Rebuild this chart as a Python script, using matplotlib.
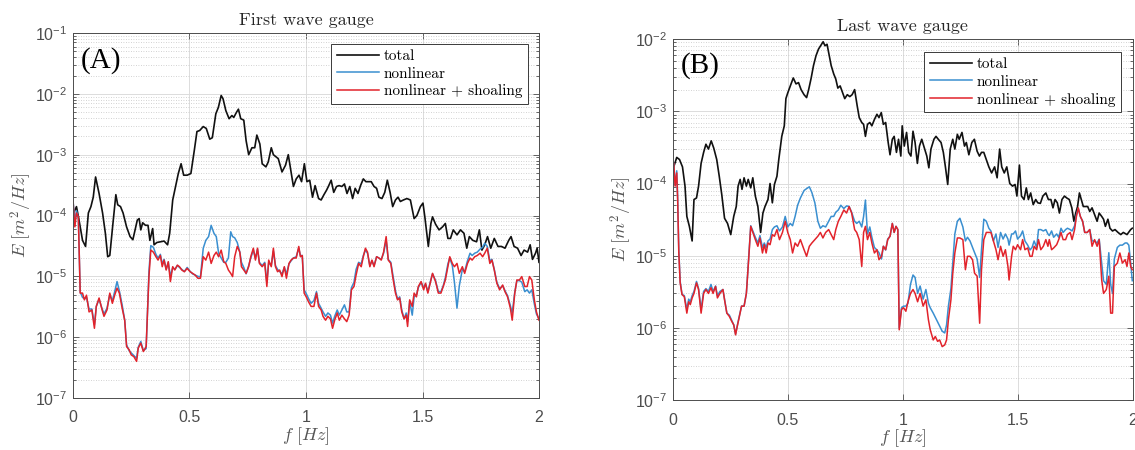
import numpy as np
import matplotlib.pyplot as plt
from matplotlib.ticker import LogLocator, NullFormatter

plt.rcParams['font.family'] = ['Liberation Sans', 'DejaVu Sans']
plt.rcParams['mathtext.fontset'] = 'cm'

# ---- panel A: first wave gauge ----
f_tot_a = [0.003, 0.015, 0.026, 0.041, 0.054, 0.066, 0.077, 0.087, 0.097, 0.112,
           0.127, 0.139, 0.149, 0.158, 0.170, 0.184, 0.192, 0.204, 0.215, 0.230,
           0.245, 0.257, 0.276, 0.284, 0.291, 0.299, 0.311, 0.322, 0.330, 0.342,
           0.348, 0.360, 0.375, 0.391, 0.406, 0.415, 0.428, 0.440, 0.452, 0.464,
           0.475, 0.490, 0.506, 0.521, 0.532, 0.544, 0.559, 0.572, 0.587, 0.598,
           0.613, 0.624, 0.636, 0.644, 0.656, 0.670, 0.682, 0.690, 0.702, 0.710,
           0.720, 0.733, 0.743, 0.754, 0.768, 0.780, 0.789, 0.802, 0.812, 0.828,
           0.838, 0.851, 0.860, 0.872, 0.881, 0.897, 0.912, 0.924, 0.935, 0.946,
           0.958, 0.970, 0.981, 0.993, 1.004, 1.016, 1.028, 1.039, 1.054, 1.065,
           1.077, 1.088, 1.096, 1.108, 1.119, 1.131, 1.142, 1.154, 1.165, 1.176,
           1.188, 1.200, 1.211, 1.223, 1.234, 1.246, 1.257, 1.269, 1.280, 1.292,
           1.303, 1.313, 1.326, 1.338, 1.349, 1.361, 1.372, 1.384, 1.395, 1.405,
           1.418, 1.433, 1.448, 1.464, 1.476, 1.491, 1.502, 1.510, 1.525, 1.536,
           1.543, 1.556, 1.571, 1.586, 1.598, 1.609, 1.620, 1.632, 1.648, 1.663,
           1.678, 1.690, 1.701, 1.716, 1.732, 1.744, 1.755, 1.767, 1.779, 1.793,
           1.808, 1.824, 1.839, 1.854, 1.870, 1.880, 1.893, 1.908, 1.923, 1.936,
           1.951, 1.962, 1.972, 1.985, 1.992, 2.000]
total_a = [1.1e-4, 1.4e-4, 8.4e-5, 3.9e-5, 3.1e-5, 1.1e-4, 1.4e-4, 2.0e-4, 4.3e-4, 2.3e-4,
           1.1e-4, 5.1e-5, 2.1e-5, 2.2e-5, 6.5e-5, 2.2e-4, 1.5e-4, 1.4e-4, 1.1e-4, 6.5e-5,
           4.5e-5, 4.0e-5, 8.4e-5, 8.9e-5, 5.8e-5, 7.6e-5, 6.9e-5, 6.9e-5, 3.9e-5, 6.1e-5,
           3.3e-5, 3.6e-5, 3.7e-5, 3.8e-5, 3.3e-5, 5.1e-5, 1.8e-4, 3.0e-4, 4.9e-4, 7.1e-4,
           4.6e-4, 4.6e-4, 4.9e-4, 1.2e-3, 2.4e-3, 2.5e-3, 2.9e-3, 2.7e-3, 1.8e-3, 1.9e-3,
           4.7e-3, 6.0e-3, 9.4e-3, 8.3e-3, 5.3e-3, 3.9e-3, 4.4e-3, 4.1e-3, 5.0e-3, 5.6e-3,
           3.9e-3, 3.7e-3, 1.7e-3, 1.0e-3, 1.3e-3, 1.3e-3, 2.1e-3, 1.5e-3, 7.1e-4, 6.3e-4,
           7.6e-4, 1.3e-3, 1.0e-3, 9.2e-4, 8.6e-4, 5.2e-4, 6.7e-4, 1.0e-3, 5.5e-4, 3.0e-4,
           4.0e-4, 4.6e-4, 3.6e-4, 7.1e-4, 3.6e-4, 3.8e-4, 2.0e-4, 3.1e-4, 1.9e-4, 1.8e-4,
           2.2e-4, 2.6e-4, 3.0e-4, 3.8e-4, 2.4e-4, 3.0e-4, 3.1e-4, 3.0e-4, 3.3e-4, 2.3e-4,
           3.0e-4, 1.9e-4, 2.8e-4, 2.3e-4, 3.1e-4, 4.0e-4, 3.6e-4, 3.6e-4, 3.6e-4, 3.0e-4,
           2.8e-4, 2.0e-4, 1.9e-4, 2.4e-4, 3.8e-4, 2.4e-4, 1.4e-4, 1.8e-4, 2.0e-4, 1.7e-4,
           1.8e-4, 1.9e-4, 1.8e-4, 8.9e-5, 1.0e-4, 1.4e-4, 1.6e-4, 9.5e-5, 3.1e-5, 7.4e-5,
           9.5e-5, 7.2e-5, 5.8e-5, 6.5e-5, 7.4e-5, 4.2e-5, 4.2e-5, 5.8e-5, 4.8e-5, 5.8e-5,
           5.1e-5, 2.9e-5, 4.5e-5, 3.9e-5, 3.7e-5, 5.8e-5, 2.7e-5, 3.3e-5, 4.5e-5, 2.9e-5,
           4.2e-5, 3.1e-5, 3.1e-5, 2.9e-5, 3.9e-5, 4.5e-5, 3.1e-5, 2.9e-5, 2.2e-5, 2.7e-5,
           2.5e-5, 3.3e-5, 1.9e-5, 2.4e-5, 2.9e-5, 1.7e-5]

f_nl_a = [0.000, 0.008, 0.015, 0.023, 0.031, 0.041, 0.049, 0.058, 0.069, 0.081,
          0.092, 0.100, 0.112, 0.123, 0.133, 0.146, 0.158, 0.169, 0.179, 0.189,
          0.199, 0.211, 0.222, 0.230, 0.241, 0.250, 0.261, 0.273, 0.280, 0.291,
          0.302, 0.314, 0.326, 0.334, 0.345, 0.356, 0.365, 0.375, 0.383, 0.391,
          0.400, 0.409, 0.418, 0.428, 0.437, 0.448, 0.457, 0.467, 0.478, 0.490,
          0.503, 0.513, 0.524, 0.536, 0.547, 0.559, 0.570, 0.582, 0.593, 0.605,
          0.615, 0.625, 0.636, 0.647, 0.656, 0.667, 0.677, 0.685, 0.694, 0.705,
          0.716, 0.723, 0.733, 0.743, 0.754, 0.763, 0.774, 0.783, 0.792, 0.800,
          0.812, 0.823, 0.832, 0.840, 0.851, 0.860, 0.869, 0.878, 0.887, 0.897,
          0.907, 0.916, 0.927, 0.936, 0.946, 0.958, 0.969, 0.976, 0.984, 0.992,
          1.001, 1.011, 1.022, 1.034, 1.045, 1.054, 1.065, 1.073, 1.084, 1.094,
          1.105, 1.114, 1.123, 1.134, 1.143, 1.154, 1.165, 1.175, 1.185, 1.195,
          1.206, 1.215, 1.226, 1.237, 1.246, 1.255, 1.264, 1.274, 1.283, 1.292,
          1.303, 1.313, 1.323, 1.333, 1.344, 1.353, 1.364, 1.372, 1.384, 1.393,
          1.402, 1.411, 1.421, 1.430, 1.436, 1.445, 1.456, 1.464, 1.474, 1.482,
          1.494, 1.505, 1.513, 1.523, 1.533, 1.543, 1.556, 1.568, 1.579, 1.589,
          1.598, 1.609, 1.617, 1.628, 1.637, 1.648, 1.658, 1.671, 1.681, 1.693,
          1.704, 1.713, 1.724, 1.735, 1.747, 1.758, 1.767, 1.778, 1.789, 1.798,
          1.808, 1.819, 1.831, 1.844, 1.854, 1.865, 1.877, 1.885, 1.896, 1.905,
          1.916, 1.926, 1.939, 1.949, 1.959, 1.969, 1.980, 1.989, 2.000]
nonlin_a = [1.8e-4, 8.0e-5, 1.2e-4, 9.0e-5, 5.5e-6, 4.5e-6, 4.3e-6, 4.5e-6, 2.9e-6, 2.9e-6,
            1.6e-6, 3.2e-6, 4.2e-6, 3.1e-6, 2.4e-6, 3.0e-6, 5.0e-6, 4.0e-6, 5.6e-6, 8.2e-6,
            5.8e-6, 3.4e-6, 1.9e-6, 7.5e-7, 6.0e-7, 5.5e-7, 5.0e-7, 4.5e-7, 6.8e-7, 8.5e-7,
            6.0e-7, 6.5e-7, 1.2e-5, 3.2e-5, 3.0e-5, 2.3e-5, 2.0e-5, 2.3e-5, 1.6e-5, 1.9e-5,
            1.3e-5, 1.7e-5, 1.0e-5, 1.4e-5, 1.3e-5, 1.5e-5, 1.4e-5, 1.3e-5, 1.2e-5, 1.4e-5,
            1.2e-5, 1.1e-5, 1.05e-5, 1.0e-5, 9.8e-6, 2.9e-5, 3.9e-5, 4.5e-5, 6.9e-5, 5.1e-5,
            4.5e-5, 2.4e-5, 2.0e-5, 1.7e-5, 1.7e-5, 2.0e-5, 5.4e-5, 4.5e-5, 4.3e-5, 3.6e-5,
            2.5e-5, 1.7e-5, 1.4e-5, 1.1e-5, 1.5e-5, 2.0e-5, 2.7e-5, 2.0e-5, 2.8e-5, 1.7e-5,
            1.5e-5, 1.7e-5, 8.0e-6, 1.7e-5, 1.5e-5, 2.6e-5, 1.5e-5, 1.3e-5, 1.2e-5, 1.1e-5,
            1.4e-5, 1.1e-5, 1.6e-5, 1.8e-5, 2.0e-5, 2.1e-5, 2.9e-5, 2.2e-5, 2.2e-5, 6.0e-6,
            5.2e-6, 4.3e-6, 3.6e-6, 4.0e-6, 5.6e-6, 3.6e-6, 3.0e-6, 2.6e-6, 2.2e-6, 2.5e-6,
            2.3e-6, 1.7e-6, 2.2e-6, 2.8e-6, 2.3e-6, 2.8e-6, 3.4e-6, 2.6e-6, 2.6e-6, 6.5e-6,
            8.0e-6, 1.3e-5, 1.7e-5, 1.6e-5, 2.2e-5, 2.7e-5, 2.4e-5, 1.5e-5, 1.8e-5, 1.5e-5,
            2.1e-5, 2.0e-5, 1.9e-5, 2.4e-5, 3.9e-5, 1.9e-5, 1.7e-5, 1.1e-5, 5.8e-6, 4.2e-6,
            4.6e-6, 2.8e-6, 2.0e-6, 2.5e-6, 1.8e-6, 3.8e-6, 2.3e-6, 4.6e-6, 5.0e-6, 6.5e-6,
            8.0e-6, 6.5e-6, 7.5e-6, 5.6e-6, 8.0e-6, 1.1e-5, 8.5e-6, 5.6e-6, 5.6e-6, 7.0e-6,
            9.5e-6, 1.6e-5, 2.0e-5, 1.5e-5, 8.0e-6, 3.0e-6, 7.0e-6, 1.3e-5, 1.2e-5, 1.8e-5,
            2.4e-5, 2.2e-5, 2.4e-5, 2.5e-5, 2.8e-5, 3.0e-5, 3.5e-5, 3.1e-5, 1.8e-5, 1.9e-5,
            1.3e-5, 8.0e-6, 6.3e-6, 7.0e-6, 5.8e-6, 4.8e-6, 3.3e-6, 2.5e-6, 5.5e-6, 8.5e-6,
            8.5e-6, 8.0e-6, 5.6e-6, 6.0e-6, 5.3e-6, 6.0e-6, 3.5e-6, 2.4e-6, 2.0e-6]
shoal_a = [1.8e-4, 6.5e-5, 1.1e-4, 9.5e-5, 5.3e-6, 5.3e-6, 4.1e-6, 4.9e-6, 2.6e-6, 2.8e-6,
           1.4e-6, 3.2e-6, 4.4e-6, 3.0e-6, 2.2e-6, 2.8e-6, 5.3e-6, 3.6e-6, 4.9e-6, 6.4e-6,
           5.3e-6, 3.0e-6, 1.9e-6, 7.0e-7, 6.2e-7, 5.1e-7, 4.8e-7, 4.0e-7, 6.6e-7, 8.0e-7,
           5.8e-7, 7.0e-7, 9.9e-6, 2.7e-5, 2.5e-5, 2.1e-5, 1.85e-5, 2.2e-5, 1.44e-5, 1.85e-5,
           1.27e-5, 1.74e-5, 8.2e-6, 1.44e-5, 1.27e-5, 1.53e-5, 1.44e-5, 1.27e-5, 1.19e-5, 1.35e-5,
           1.19e-5, 1.12e-5, 1.05e-5, 9.3e-6, 9.3e-6, 2.1e-5, 1.85e-5, 2.5e-5, 1.63e-5, 2.2e-5,
           2.5e-5, 2.1e-5, 2.7e-5, 1.74e-5, 1.63e-5, 1.27e-5, 1.12e-5, 9.9e-6, 2.1e-5, 3.1e-5,
           2.5e-5, 1.44e-5, 1.27e-5, 1.12e-5, 1.44e-5, 2.1e-5, 2.9e-5, 1.85e-5, 2.9e-5, 1.63e-5,
           1.44e-5, 1.63e-5, 6.8e-6, 1.85e-5, 1.44e-5, 2.9e-5, 1.44e-5, 1.19e-5, 1.27e-5, 9.9e-6,
           1.44e-5, 9.3e-6, 1.63e-5, 1.85e-5, 2.0e-5, 2.0e-5, 3.1e-5, 2.1e-5, 2.2e-5, 5.3e-6,
           4.6e-6, 3.8e-6, 3.2e-6, 3.2e-6, 5.3e-6, 3.2e-6, 2.8e-6, 2.2e-6, 1.9e-6, 2.2e-6,
           2.0e-6, 1.4e-6, 1.9e-6, 2.5e-6, 1.9e-6, 2.3e-6, 2.0e-6, 1.8e-6, 2.3e-6, 6.0e-6,
           6.8e-6, 1.05e-5, 1.63e-5, 1.44e-5, 2.1e-5, 2.9e-5, 2.5e-5, 1.44e-5, 1.85e-5, 1.44e-5,
           2.1e-5, 2.0e-5, 1.85e-5, 2.5e-5, 4.5e-5, 1.85e-5, 1.63e-5, 9.9e-6, 5.3e-6, 4.1e-6,
           4.4e-6, 2.6e-6, 2.0e-6, 2.3e-6, 1.5e-6, 4.1e-6, 3.2e-6, 5.3e-6, 4.6e-6, 6.8e-6,
           8.2e-6, 6.0e-6, 7.7e-6, 5.3e-6, 7.7e-6, 1.12e-5, 8.2e-6, 5.3e-6, 5.3e-6, 6.8e-6,
           8.7e-6, 1.44e-5, 2.1e-5, 1.63e-5, 1.44e-5, 1.63e-5, 1.12e-5, 1.44e-5, 1.12e-5, 1.63e-5,
           2.0e-5, 1.85e-5, 2.1e-5, 2.2e-5, 2.4e-5, 2.1e-5, 2.4e-5, 2.9e-5, 1.63e-5, 1.85e-5,
           1.27e-5, 7.7e-6, 6.0e-6, 7.2e-6, 5.6e-6, 4.6e-6, 3.0e-6, 1.9e-6, 5.3e-6, 8.7e-6,
           8.7e-6, 9.9e-6, 6.8e-6, 6.8e-6, 9.9e-6, 8.7e-6, 4.1e-6, 2.6e-6, 1.9e-6]

# ---- panel B: last wave gauge ----
f_tot_b = [0.003, 0.016, 0.028, 0.041, 0.052, 0.060, 0.071, 0.083, 0.091, 0.102,
           0.111, 0.122, 0.133, 0.143, 0.154, 0.166, 0.177, 0.190, 0.201, 0.212,
           0.224, 0.237, 0.251, 0.264, 0.275, 0.283, 0.292, 0.300, 0.309, 0.319,
           0.327, 0.338, 0.347, 0.358, 0.369, 0.381, 0.391, 0.400, 0.413, 0.422,
           0.432, 0.441, 0.452, 0.460, 0.473, 0.484, 0.491, 0.499, 0.510, 0.523,
           0.535, 0.546, 0.557, 0.570, 0.581, 0.590, 0.601, 0.611, 0.622, 0.633,
           0.644, 0.653, 0.661, 0.670, 0.677, 0.688, 0.699, 0.708, 0.717, 0.727,
           0.738, 0.747, 0.758, 0.769, 0.779, 0.790, 0.801, 0.810, 0.821, 0.829,
           0.837, 0.846, 0.856, 0.865, 0.876, 0.887, 0.896, 0.906, 0.915, 0.925,
           0.936, 0.944, 0.954, 0.962, 0.972, 0.981, 0.991, 0.997, 1.006, 1.016,
           1.025, 1.035, 1.044, 1.053, 1.063, 1.072, 1.082, 1.091, 1.104, 1.113,
           1.122, 1.135, 1.144, 1.154, 1.166, 1.176, 1.185, 1.195, 1.206, 1.217,
           1.226, 1.237, 1.245, 1.257, 1.268, 1.276, 1.287, 1.300, 1.311, 1.323,
           1.333, 1.342, 1.352, 1.363, 1.374, 1.386, 1.399, 1.410, 1.421, 1.430,
           1.441, 1.452, 1.465, 1.477, 1.488, 1.496, 1.507, 1.516, 1.527, 1.537,
           1.546, 1.556, 1.567, 1.578, 1.587, 1.598, 1.609, 1.622, 1.633, 1.644,
           1.653, 1.662, 1.672, 1.681, 1.692, 1.703, 1.713, 1.724, 1.735, 1.744,
           1.752, 1.760, 1.768, 1.776, 1.785, 1.794, 1.804, 1.813, 1.823, 1.834,
           1.845, 1.854, 1.865, 1.873, 1.881, 1.892, 1.901, 1.912, 1.923, 1.936,
           1.948, 1.959, 1.975, 1.991, 1.998]
total_b = [1.7e-4, 2.3e-4, 2.15e-4, 1.7e-4, 9.2e-5, 3.5e-5, 2.55e-5, 1.6e-5, 6.0e-5, 6.3e-5,
           9.2e-5, 1.9e-4, 2.7e-4, 3.5e-4, 3.0e-4, 3.9e-4, 3.1e-4, 2.15e-4, 1.26e-4, 7.0e-5,
           3.3e-5, 2.8e-5, 1.96e-5, 3.5e-5, 4.8e-5, 9.2e-5, 1.14e-4, 8.3e-5, 1.2e-4, 9.2e-5,
           1.14e-4, 8.7e-5, 1.2e-4, 6.7e-5, 4.8e-5, 2.1e-5, 3.9e-5, 4.8e-5, 6.0e-5, 1.0e-4,
           5.4e-5, 9.7e-5, 1.26e-4, 2.15e-4, 4.5e-4, 6.3e-4, 1.5e-3, 1.8e-3, 2.25e-3, 2.9e-3,
           2.4e-3, 2.5e-3, 2.0e-3, 1.7e-3, 1.55e-3, 2.0e-3, 2.9e-3, 4.3e-3, 5.9e-3, 7.3e-3,
           8.3e-3, 9.2e-3, 8.1e-3, 8.5e-3, 6.5e-3, 4.3e-3, 3.3e-3, 2.8e-3, 2.1e-3, 2.25e-3,
           1.8e-3, 1.5e-3, 1.7e-3, 1.6e-3, 1.7e-3, 2.0e-3, 1.2e-3, 8.2e-4, 7.0e-4, 6.6e-4,
           4.5e-4, 6.6e-4, 7.0e-4, 6.3e-4, 7.7e-4, 9.1e-4, 8.2e-4, 9.6e-4, 6.6e-4, 7.0e-4,
           3.7e-4, 2.5e-4, 4.1e-4, 4.5e-4, 2.7e-4, 4.1e-4, 2.4e-4, 6.3e-4, 3.3e-4, 5.1e-4,
           2.7e-4, 2.4e-4, 5.3e-4, 3.7e-4, 1.9e-4, 3.3e-4, 4.1e-4, 3.3e-4, 2.4e-4, 1.65e-4,
           3.0e-4, 4.1e-4, 4.5e-4, 4.1e-4, 3.7e-4, 2.7e-4, 1.7e-4, 9.7e-5, 3.0e-4, 4.1e-4,
           3.0e-4, 4.8e-4, 4.1e-4, 5.1e-4, 3.3e-4, 3.7e-4, 2.5e-4, 3.7e-4, 4.1e-4, 2.8e-4,
           2.4e-4, 2.7e-4, 2.7e-4, 2.15e-4, 1.7e-4, 1.4e-4, 1.7e-4, 1.2e-4, 3.0e-4, 1.7e-4,
           1.4e-4, 1.7e-4, 1.0e-4, 9.2e-5, 9.7e-5, 6.7e-5, 1.8e-4, 6.7e-5, 6.0e-5, 8.7e-5,
           6.0e-5, 7.4e-5, 5.1e-5, 6.0e-5, 5.4e-5, 5.3e-5, 6.7e-5, 7.4e-5, 6.0e-5, 6.0e-5,
           4.6e-5, 6.0e-5, 5.4e-5, 3.9e-5, 6.0e-5, 6.7e-5, 6.3e-5, 6.0e-5, 4.6e-5, 3.0e-5,
           3.9e-5, 4.8e-5, 7.4e-5, 6.0e-5, 4.8e-5, 4.8e-5, 4.8e-5, 4.1e-5, 4.6e-5, 3.7e-5,
           3.0e-5, 3.9e-5, 3.5e-5, 3.2e-5, 2.55e-5, 3.2e-5, 2.4e-5, 2.2e-5, 2.3e-5, 2.1e-5,
           1.96e-5, 2.1e-5, 1.96e-5, 2.3e-5, 2.4e-5]

f_nl_b = [0.003, 0.009, 0.016, 0.020, 0.025, 0.031, 0.039, 0.049, 0.060, 0.068,
          0.075, 0.083, 0.091, 0.102, 0.111, 0.122, 0.133, 0.143, 0.154, 0.165,
          0.174, 0.185, 0.193, 0.204, 0.217, 0.224, 0.234, 0.245, 0.256, 0.264,
          0.272, 0.279, 0.287, 0.298, 0.309, 0.319, 0.327, 0.338, 0.347, 0.358,
          0.369, 0.378, 0.389, 0.397, 0.405, 0.413, 0.422, 0.432, 0.441, 0.452,
          0.463, 0.476, 0.488, 0.499, 0.510, 0.520, 0.531, 0.542, 0.554, 0.570,
          0.581, 0.593, 0.604, 0.617, 0.630, 0.641, 0.652, 0.664, 0.677, 0.688,
          0.699, 0.708, 0.719, 0.730, 0.743, 0.755, 0.766, 0.777, 0.790, 0.799,
          0.810, 0.821, 0.829, 0.837, 0.846, 0.856, 0.865, 0.876, 0.887, 0.896,
          0.907, 0.915, 0.925, 0.934, 0.944, 0.954, 0.962, 0.970, 0.978, 0.984,
          0.994, 1.003, 1.013, 1.022, 1.033, 1.044, 1.053, 1.064, 1.075, 1.088,
          1.100, 1.111, 1.119, 1.132, 1.141, 1.151, 1.160, 1.171, 1.182, 1.190,
          1.198, 1.209, 1.217, 1.226, 1.237, 1.248, 1.261, 1.272, 1.281, 1.292,
          1.303, 1.312, 1.323, 1.334, 1.342, 1.352, 1.363, 1.374, 1.383, 1.394,
          1.405, 1.414, 1.425, 1.436, 1.446, 1.457, 1.462, 1.473, 1.480, 1.490,
          1.499, 1.512, 1.521, 1.531, 1.543, 1.553, 1.562, 1.571, 1.582, 1.590,
          1.600, 1.611, 1.622, 1.631, 1.637, 1.647, 1.656, 1.669, 1.678, 1.688,
          1.697, 1.708, 1.716, 1.728, 1.736, 1.747, 1.755, 1.763, 1.772, 1.782,
          1.791, 1.802, 1.813, 1.823, 1.834, 1.845, 1.854, 1.865, 1.873, 1.885,
          1.896, 1.904, 1.912, 1.920, 1.933, 1.944, 1.955, 1.967, 1.975, 1.983,
          1.991, 1.998]
nonlin_b = [1.9e-4, 9.5e-5, 1.5e-4, 6.5e-5, 1.2e-5, 4.4e-6, 2.9e-6, 2.8e-6, 1.8e-6, 2.5e-6,
            2.3e-6, 2.8e-6, 3.2e-6, 4.4e-6, 3.5e-6, 1.8e-6, 3.2e-6, 3.5e-6, 3.2e-6, 4.0e-6,
            3.2e-6, 3.8e-6, 2.8e-6, 3.2e-6, 3.4e-6, 2.5e-6, 1.6e-6, 1.5e-6, 1.25e-6, 1.1e-6,
            8.2e-7, 1.05e-6, 1.4e-6, 2.0e-6, 2.0e-6, 3.0e-6, 7.5e-6, 2.6e-5, 2.2e-5, 1.8e-5,
            1.5e-5, 1.9e-5, 1.3e-5, 1.5e-5, 1.3e-5, 1.6e-5, 1.7e-5, 2.3e-5, 2.5e-5, 2.6e-5,
            2.2e-5, 2.5e-5, 3.5e-5, 2.5e-5, 2.8e-5, 2.6e-5, 3.5e-5, 5.0e-5, 6.3e-5, 8.0e-5,
            8.5e-5, 9.0e-5, 7.5e-5, 5.4e-5, 3.0e-5, 2.4e-5, 2.6e-5, 2.5e-5, 3.0e-5, 3.5e-5,
            3.5e-5, 4.0e-5, 4.3e-5, 5.0e-5, 4.5e-5, 4.9e-5, 4.8e-5, 4.0e-5, 3.0e-5, 2.8e-5,
            3.0e-5, 2.5e-5, 3.5e-5, 5.9e-5, 2.0e-5, 2.5e-5, 1.8e-5, 1.3e-5, 1.2e-5, 1.1e-5,
            9.0e-6, 1.35e-5, 1.2e-5, 1.7e-5, 1.86e-5, 2.8e-5, 2.1e-5, 2.55e-5, 2.3e-5, 1.0e-6,
            1.9e-6, 2.0e-6, 2.0e-6, 2.2e-6, 4.0e-6, 5.4e-6, 5.0e-6, 3.0e-6, 3.8e-6, 2.5e-6,
            3.4e-6, 2.2e-6, 1.9e-6, 1.6e-6, 1.4e-6, 1.2e-6, 1.05e-6, 9.0e-7, 8.5e-7, 1.1e-6,
            2.0e-6, 3.5e-6, 8.0e-6, 2.0e-5, 3.0e-5, 3.3e-5, 2.5e-5, 1.6e-5, 1.8e-5, 1.6e-5,
            1.3e-5, 1.1e-5, 9.0e-6, 5.0e-6, 1.2e-5, 3.2e-5, 3.0e-5, 2.4e-5, 2.2e-5, 1.6e-5,
            2.0e-5, 1.3e-5, 2.1e-5, 1.7e-5, 2.0e-5, 1.7e-5, 1.4e-5, 2.0e-5, 2.0e-5, 2.2e-5,
            1.7e-5, 1.9e-5, 2.2e-5, 1.6e-5, 1.4e-5, 1.2e-5, 1.3e-5, 1.6e-5, 1.3e-5, 2.3e-5,
            2.3e-5, 2.2e-5, 2.3e-5, 2.0e-5, 1.9e-5, 2.2e-5, 1.8e-5, 2.0e-5, 1.8e-5, 2.4e-5,
            2.1e-5, 2.3e-5, 2.4e-5, 2.3e-5, 2.2e-5, 2.6e-5, 3.7e-5, 4.5e-5, 3.5e-5, 3.0e-5,
            2.1e-5, 2.1e-5, 2.3e-5, 1.6e-5, 1.6e-5, 1.5e-5, 1.7e-5, 8.0e-6, 4.5e-6, 4.0e-6,
            1.1e-5, 4.0e-6, 3.0e-6, 9.0e-6, 1.3e-5, 1.4e-5, 1.4e-5, 1.5e-5, 1.5e-5, 1.4e-5,
            8.0e-6, 4.5e-6]
shoal_b = [1.9e-4, 9.2e-5, 1.4e-4, 6.0e-5, 1.09e-5, 4.2e-6, 2.9e-6, 2.7e-6, 1.6e-6, 2.3e-6,
           2.1e-6, 2.6e-6, 3.0e-6, 4.2e-6, 3.4e-6, 1.6e-6, 3.0e-6, 3.4e-6, 3.0e-6, 3.6e-6,
           3.0e-6, 3.75e-6, 2.6e-6, 3.0e-6, 3.4e-6, 2.45e-6, 1.6e-6, 1.44e-6, 1.22e-6, 1.1e-6,
           8.0e-7, 1.04e-6, 1.36e-6, 2.0e-6, 2.0e-6, 3.0e-6, 7.1e-6, 2.55e-5, 2.1e-5, 1.67e-5,
           1.35e-5, 1.76e-5, 1.09e-5, 1.42e-5, 1.09e-5, 1.5e-5, 1.42e-5, 1.96e-5, 1.86e-5, 2.3e-5,
           1.67e-5, 2.1e-5, 3.0e-5, 2.1e-5, 1.67e-5, 1.09e-5, 1.5e-5, 1.35e-5, 1.67e-5, 1.21e-5,
           9.8e-6, 1.35e-5, 1.5e-5, 1.67e-5, 1.86e-5, 2.1e-5, 1.76e-5, 2.1e-5, 2.3e-5, 1.96e-5,
           1.67e-5, 2.3e-5, 3.0e-5, 3.5e-5, 4.3e-5, 3.9e-5, 4.8e-5, 3.9e-5, 2.3e-5, 2.1e-5,
           1.67e-5, 7.1e-6, 2.1e-5, 2.55e-5, 1.67e-5, 2.1e-5, 1.5e-5, 1.09e-5, 1.21e-5, 8.8e-6,
           9.8e-6, 1.35e-5, 1.21e-5, 1.67e-5, 1.86e-5, 2.8e-5, 2.1e-5, 2.55e-5, 2.3e-5, 9.4e-7,
           1.8e-6, 1.9e-6, 1.7e-6, 2.3e-6, 3.0e-6, 3.4e-6, 3.0e-6, 2.3e-6, 3.0e-6, 2.0e-6,
           2.45e-6, 1.3e-6, 9.4e-7, 6.8e-7, 7.6e-7, 6.5e-7, 6.8e-7, 5.5e-7, 5.8e-7, 6.8e-7,
           1.3e-6, 2.45e-6, 5.7e-6, 1.09e-5, 1.76e-5, 1.76e-5, 1.67e-5, 6.4e-6, 9.8e-6, 9.8e-6,
           8.8e-6, 5.7e-6, 5.2e-6, 1.16e-6, 6.4e-6, 1.67e-5, 2.1e-5, 2.1e-5, 2.1e-5, 1.6e-5,
           1.21e-5, 8.8e-6, 1.35e-5, 9.8e-6, 1.21e-5, 7.1e-6, 4.6e-6, 9.8e-6, 1.35e-5, 1.21e-5,
           1.42e-5, 1.21e-5, 1.67e-5, 1.21e-5, 1.28e-5, 9.8e-6, 9.8e-6, 1.35e-5, 1.21e-5, 1.67e-5,
           1.21e-5, 1.35e-5, 1.67e-5, 1.35e-5, 1.67e-5, 1.21e-5, 1.28e-5, 1.42e-5, 1.67e-5, 2.1e-5,
           1.67e-5, 1.67e-5, 1.96e-5, 2.1e-5, 1.67e-5, 2.3e-5, 3.5e-5, 4.6e-5, 3.5e-5, 3.0e-5,
           2.1e-5, 2.1e-5, 2.3e-5, 1.35e-5, 1.67e-5, 1.35e-5, 1.67e-5, 4.6e-6, 3.0e-6, 3.4e-6,
           5.2e-6, 1.6e-6, 1.6e-6, 7.1e-6, 7.9e-6, 1.09e-5, 7.9e-6, 8.8e-6, 7.1e-6, 1.09e-5,
           7.1e-6, 6.4e-6]

xticks = [0, 0.5, 1, 1.5, 2]
xtick_labels = ['0', '0.5', '1', '1.5', '2']
labels = ['total', 'nonlinear', 'nonlinear + shoaling']

fig = plt.figure(figsize=(11.35, 4.5), dpi=100)
ax_a = fig.add_axes([0.0643, 0.1156, 0.4106, 0.811])
ax_b = fig.add_axes([0.593, 0.111, 0.405, 0.802])

c_blue = '#3a8fd0'
c_red = '#e2232b'
c_axis = '#4d4d4d'

panels = [
    (ax_a, f_tot_a, total_a, f_nl_a, nonlin_a, shoal_a, 1e-1, 'First wave gauge', '(A)', (0.976, 0.970)),
    (ax_b, f_tot_b, total_b, f_nl_b, nonlin_b, shoal_b, 1e-2, 'Last wave gauge', '(B)', (0.974, 0.964)),
]

for ax, f_tot, tot, f_nl, nl, sh, ytop, title, tag, leg_pos in panels:
    ax.plot(f_tot, tot, color='#111111', lw=1.2, label=labels[0])
    ax.plot(f_nl, nl, color=c_blue, lw=1.1, label=labels[1])
    ax.plot(f_nl, sh, color=c_red, lw=1.1, label=labels[2])

    ax.set_yscale('log')
    ax.set_xlim(0, 2)
    ax.set_ylim(1e-7, ytop)
    ax.set_xticks(xticks)
    ax.set_xticklabels(xtick_labels)
    ax.yaxis.set_major_locator(LogLocator(base=10, numticks=12))
    ax.yaxis.set_minor_locator(LogLocator(base=10, subs=np.arange(2, 10), numticks=12))
    ax.yaxis.set_minor_formatter(NullFormatter())

    ax.grid(True, which='major', color='#dcdcdc', lw=0.7)
    ax.grid(True, which='minor', axis='y', color='#c4c4c4', lw=0.6, ls=(0, (1, 2)))
    ax.set_axisbelow(True)

    ax.tick_params(which='both', direction='in', top=True, right=True,
                   colors=c_axis, labelsize=11.5, width=0.6)
    ax.tick_params(which='major', length=4)
    ax.tick_params(which='minor', length=2)
    ax.tick_params(axis='x', pad=9)
    ax.tick_params(axis='y', pad=4)
    for sp in ax.spines.values():
        sp.set_color(c_axis)
        sp.set_linewidth(0.7)

    ax.set_title(title, fontfamily='cmr10', fontsize=13, color='#262626', pad=6)
    ax.set_xlabel(r'$f\ [Hz]$', fontsize=13, color='#555555', labelpad=0)
    ax.set_ylabel(r'$E\ [m^2/Hz]$', fontsize=13, color='#555555', labelpad=1)

    ax.text(0.016, 0.926, tag, transform=ax.transAxes, ha='left', va='center',
            fontfamily='Liberation Serif', fontsize=21, color='black')

    leg = ax.legend(loc='upper right', bbox_to_anchor=leg_pos, borderaxespad=0,
                    prop={'family': 'cmr10', 'size': 11}, frameon=True, fancybox=False,
                    framealpha=1, edgecolor='#3a3a3a', handlelength=2.8,
                    handletextpad=0.3, labelspacing=0.25, borderpad=0.35)
    leg.get_frame().set_linewidth(0.7)

fig.savefig('out.png', dpi=100)
